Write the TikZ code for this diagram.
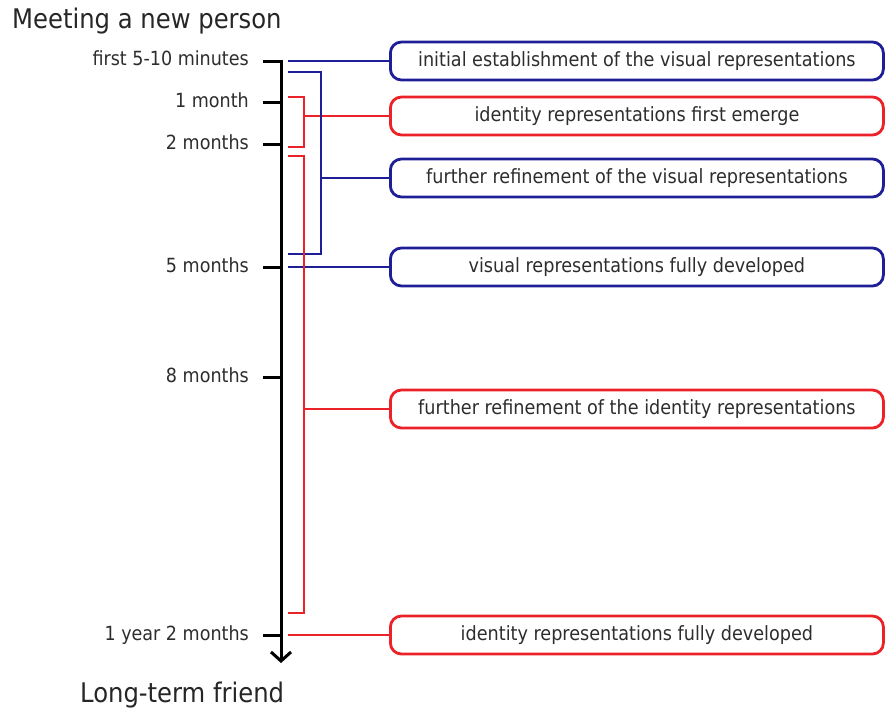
\documentclass[tikz,border=0pt]{standalone}
\usepackage{fontspec}
\setmainfont{DejaVu Sans Condensed}
\usetikzlibrary{arrows.meta}

\definecolor{visblue}{RGB}{30,30,150}
\definecolor{idred}{RGB}{235,35,40}
\definecolor{inkgray}{RGB}{45,45,45}

\begin{document}
\begin{tikzpicture}[x=1pt, y=-1pt,
    stagebox/.style={draw, rounded corners=11pt, line width=2.8pt, anchor=west,
      minimum width=493pt, minimum height=38pt, inner sep=0pt,
      text=inkgray, font=\fontsize{19.6}{22}\selectfont},
    whenlabel/.style={anchor=base east, inner sep=0pt, text=inkgray, font=\fontsize{19.5}{22}\selectfont},
    endlabel/.style={anchor=base west, inner sep=0pt, text=black!85, font=\fontsize{27}{30}\selectfont},
    visline/.style={draw=visblue, line width=2.3pt},
    idline/.style={draw=idred, line width=2.3pt}]
    \useasboundingbox (0,0) rectangle (885,709);

    % Anfang und Ende
    \node[endlabel] (start) at (12,29) {Meeting a new person};
    \node[endlabel] (finish) at (80,702) {Long-term friend};

    % Zeitachse
    \coordinate (axtop) at (281,60);
    \coordinate (axbot) at (281,663);
    \draw[line width=3pt, -{Straight Barb[length=9pt, width=20pt, line width=3pt]}] (axtop) -- (axbot);

    % Zeitpunkte
    \foreach \name/\y/\txt in {t1/61/first 5-10 minutes, t2/102/1 month, t3/144/2 months,
        t4/267/5 months, t5/377/8 months, t6/635/1 year 2 months} {
      \coordinate (\name) at (281,\y);
      \coordinate (\name s) at (263,\y);
      \draw[line width=3pt] (\name s) -- (\name);
      \node[whenlabel] (\name l) at (249,\y+5) {\txt};
    }

    % Kaesten
    \node[stagebox, draw=visblue] (visinit) at (389,61) {initial establishment of the visual representations};
    \node[stagebox, draw=idred] (idfirst) at (389,116) {identity representations first emerge};
    \node[stagebox, draw=visblue] (visrefine) at (389,178) {further refinement of the visual representations};
    \node[stagebox, draw=visblue] (visfull) at (389,267) {visual representations fully developed};
    \node[stagebox, draw=idred] (idrefine) at (389,409) {further refinement of the identity representations};
    \node[stagebox, draw=idred] (idfull) at (389,635) {identity representations fully developed};

    % rote Klammer 1-2 Monate
    \coordinate (ra) at (288,97);
    \coordinate (rb) at (288,147);
    \coordinate (rjoin) at (304,116);
    \draw[idline] (ra) -| (rjoin) |- (rb);
    \draw[idline] (rjoin) -- (idfirst.west);

    % blaue Linien
    \coordinate (va) at (288,61);
    \draw[visline] (va) -- (visinit.west);
    \coordinate (ba) at (288,72);
    \coordinate (bb) at (288,254);
    \coordinate (vjoin) at (321,178);
    \draw[visline] (ba) -| (vjoin) |- (bb);
    \draw[visline] (vjoin) -- (visrefine.west);
    \coordinate (vb) at (288,267);
    \draw[visline] (vb) -- (visfull.west);

    % rote Klammer bis 1 Jahr 2 Monate
    \coordinate (sa) at (288,156);
    \coordinate (sb) at (288,613);
    \coordinate (sjoin) at (304,409);
    \draw[idline] (sa) -| (sjoin) |- (sb);
    \draw[idline] (sjoin) -- (idrefine.west);
    \coordinate (ia) at (288,635);
    \draw[idline] (ia) -- (idfull.west);
\end{tikzpicture}
\end{document}
